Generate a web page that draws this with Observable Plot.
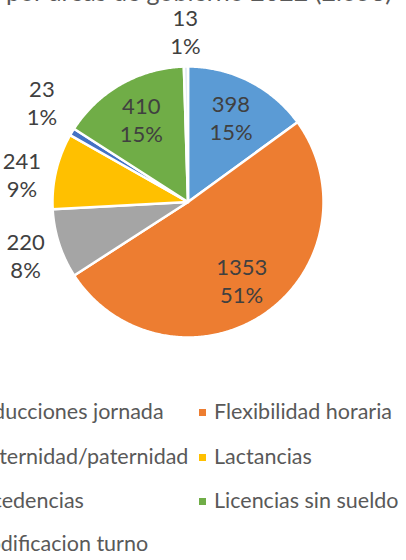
<!DOCTYPE html>
<html>
<head>
<meta charset="utf-8">
<script src="https://cdn.jsdelivr.net/npm/d3@7"></script>
<script src="https://cdn.jsdelivr.net/npm/@observablehq/plot@0.6"></script>
<style>
  html, body { margin:0; padding:0; background:#fff; }
  body { width:406px; height:560px; overflow:hidden; position:relative; font-family: Lato, "Open Sans", sans-serif; }
  #title { position:absolute; right:14px; top:-21px; font-size:25px; line-height:1; color:#595959; white-space:nowrap; }
  #chart { position:absolute; left:0; top:0; }
  .leg { position:absolute; font-size:21.5px; line-height:1; color:#595959; white-space:nowrap; }
  .leg .sw { position:absolute; width:7px; height:7px; left:-15px; top:8px; }
</style>
</head>
<body>
<div id="title">Solicitudes de conciliación por áreas de gobierno 2022 (2.658)</div>
<div id="chart"></div>
<div id="legend"></div>
<script>
// ---- data ----
const categories = ["Reducciones jornada", "Flexibilidad horaria", "Maternidad/paternidad", "Lactancias", "Excedencias", "Licencias sin sueldo", "Modificacion turno"];
const values = [398, 1353, 220, 241, 23, 410, 13];
const percentLabels = ["15%", "51%", "8%", "9%", "1%", "15%", "1%"];
const colors = ["#5B9BD5", "#ED7D31", "#A5A5A5", "#FFC000", "#4472C4", "#70AD47", "#DCE6F2"];

// ---- layout ----
const W = 406, H = 380, cx = 187.5, cy = 201.5, R = 135.5;
const total = d3.sum(values);
const pie = d3.pie().sort(null).value(d => d.value)(categories.map((c, i) => ({cat: c, value: values[i], pct: percentLabels[i]})));

const pts = [];
for (const s of pie) {
  pts.push({cat: s.data.cat, x: 0, y: 0});
  const n = Math.max(2, Math.ceil((s.endAngle - s.startAngle) / 0.01));
  for (let k = 0; k <= n; k++) {
    const a = s.startAngle + (s.endAngle - s.startAngle) * k / n;
    pts.push({cat: s.data.cat, x: Math.sin(a), y: Math.cos(a)});
  }
}

const labels = pie.map(s => {
  const frac = s.data.value / total;
  const a = (s.startAngle + s.endAngle) / 2;
  const inside = frac > 0.1;
  const r = inside ? 0.70 : 1.26;
  return {x: r * Math.sin(a), y: r * Math.cos(a), text: s.data.value + "\n" + s.data.pct, inside};
});
// simple dodge for outside labels on the left side so they don't overlap
const leftOut = labels.filter(l => !l.inside && l.x < -0.3).sort((a, b) => b.y - a.y);
const gap = 72 / R;
for (let it = 0; it < 20; it++) {
  for (let i = 1; i < leftOut.length; i++) {
    const d = leftOut[i - 1].y - leftOut[i].y;
    if (d < gap) {
      const m = (gap - d) / 2;
      leftOut[i - 1].y += m;
      leftOut[i].y -= m;
    }
  }
}

const chart = Plot.plot({
  width: W, height: H,
  margin: 0,
  x: {domain: [-cx / R, (W - cx) / R], axis: null},
  y: {domain: [-(H - cy) / R, cy / R], axis: null},
  color: {domain: categories, range: colors},
  style: {fontFamily: "Lato, 'Open Sans', sans-serif", background: "transparent"},
  marks: [
    Plot.line(pts, {x: "x", y: "y", z: "cat", fill: "cat", stroke: "white", strokeWidth: 2.5, curve: "linear-closed"}),
    Plot.text(labels, {x: "x", y: "y", text: "text", fontSize: 22, lineHeight: 1.27, fill: "#404040"})
  ]
});
document.getElementById("chart").appendChild(chart);

// ---- legend (HTML) ----
const legend = document.getElementById("legend");
const colX = [-31, 214];
const rowY = [401, 446, 490, 533];
categories.forEach((c, i) => {
  const d = document.createElement("div");
  d.className = "leg";
  d.style.left = colX[i % 2] + "px";
  d.style.top = rowY[Math.floor(i / 2)] + "px";
  const sw = document.createElement("span");
  sw.className = "sw";
  sw.style.background = colors[i];
  d.appendChild(sw);
  d.appendChild(document.createTextNode(c));
  legend.appendChild(d);
});
</script>
</body>
</html>
